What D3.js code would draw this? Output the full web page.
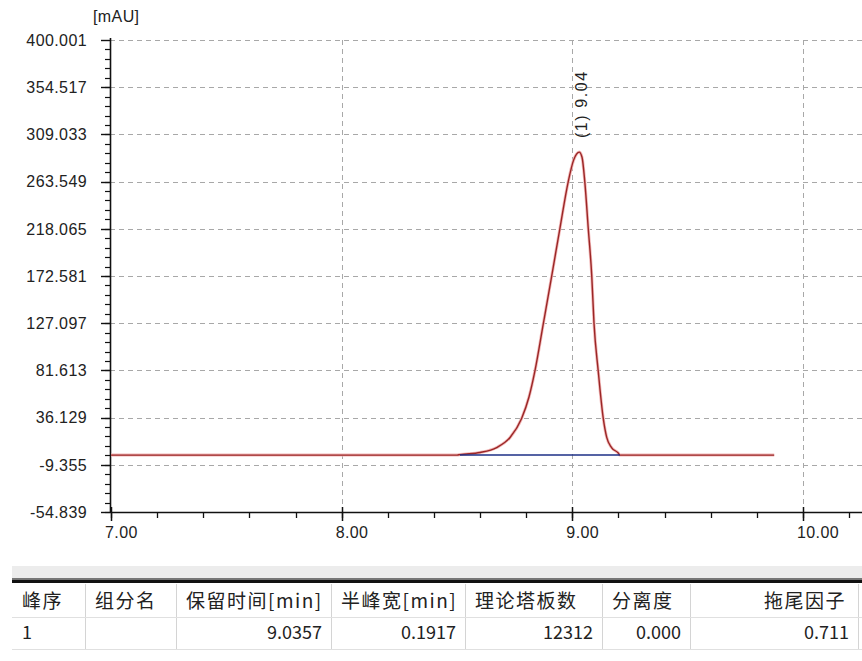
<!DOCTYPE html>
<html>
<head>
<meta charset="utf-8">
<script src="https://cdnjs.cloudflare.com/ajax/libs/d3/7.8.5/d3.min.js"></script>
<style>
	body { margin: 0; background: #fff; }
	.tick-label { font-family: "Liberation Sans", Arial, sans-serif; font-size: 16px; fill: #222; letter-spacing: 0.4px; }
	.grid { stroke: #a8a8a8; stroke-width: 1; stroke-dasharray: 5,4; }
	.tbl { font-family: "Noto Sans CJK SC", sans-serif; fill: #222; }
</style>
</head>
<body>
<div id="chart"></div>
<script>
// chromatogram signal
var retTime = [7.00, 8.50, 8.513, 8.600, 8.672, 8.730, 8.780, 8.812, 8.838, 8.874, 8.911, 8.946, 8.982, 9.005, 9.018, 9.030, 9.042, 9.054, 9.069, 9.084, 9.094, 9.112, 9.134, 9.149, 9.170, 9.199, 9.206, 9.875];
var signal  = [0, 0, 0.5, 2.5, 7.3, 17.0, 35.3, 56.0, 81.4, 126.5, 173.2, 218.3, 263.3, 284, 290, 292, 287, 263.3, 218.3, 173.2, 126.5, 81.4, 35.3, 17.0, 7.3, 2.0, 0, 0];

// integration baseline of the peak
var baseTime = [8.513, 9.206];
var baseValue = [0, 0];

// peak annotation
var peakTime = [9.04];
var peakHeight = [292];
var peakLabel = ["(1) 9.04"];

// axes
var yTicks = [-54.839, -9.355, 36.129, 81.613, 127.097, 172.581, 218.065, 263.549, 309.033, 354.517, 400.001];
var xTicks = [7, 8, 9, 10];
var yUnit = "[mAU]";

// peak table
var tableHeader = ["峰序", "组分名", "保留时间[min]", "半峰宽[min]", "理论塔板数", "分离度", "拖尾因子"];
var tableRow = ["1", "", "9.0357", "0.1917", "12312", "0.000", "0.711"];

var W = 862, H = 661;

var svg = d3.select("#chart").append("svg")
	.attr("width", W)
	.attr("height", H);

// scales
var x = d3.scaleLinear().domain([7, 10.26]).range([111, 863]);
var y = d3.scaleLinear().domain([-54.839, 400.001]).range([512, 40]);
var axisX = 110;

// gridlines
svg.append("g").selectAll("line")
	.data(yTicks.slice(1))
	.enter().append("line")
	.attr("class", "grid")
	.attr("x1", axisX).attr("x2", W)
	.attr("y1", function(d) { return Math.round(y(d)) + 0.5; })
	.attr("y2", function(d) { return Math.round(y(d)) + 0.5; });

svg.append("g").selectAll("line")
	.data(xTicks.slice(1))
	.enter().append("line")
	.attr("class", "grid")
	.attr("y1", y(400.001)).attr("y2", y(-54.839))
	.attr("x1", function(d) { return Math.round(x(d)) + 0.5; })
	.attr("x2", function(d) { return Math.round(x(d)) + 0.5; });

// y axis
var gy = svg.append("g");
gy.append("line")
	.attr("x1", axisX + 0.5).attr("x2", axisX + 0.5)
	.attr("y1", y(400.001) - 2).attr("y2", y(-54.839))
	.attr("stroke", "#111").attr("stroke-width", 1.6);

var step = (yTicks[1] - yTicks[0]) / 5;
var yMinor = d3.range(0, 50).map(function(i) { return yTicks[0] + i * step; });
gy.selectAll(".minor").data(yMinor).enter().append("line")
	.attr("x1", axisX - 5).attr("x2", axisX)
	.attr("y1", function(d) { return Math.round(y(d)) + 0.5; })
	.attr("y2", function(d) { return Math.round(y(d)) + 0.5; })
	.attr("stroke", "#111").attr("stroke-width", 1.2);
gy.selectAll(".major").data(yTicks).enter().append("line")
	.attr("x1", axisX - 9).attr("x2", axisX)
	.attr("y1", function(d) { return Math.round(y(d)) + 0.5; })
	.attr("y2", function(d) { return Math.round(y(d)) + 0.5; })
	.attr("stroke", "#111").attr("stroke-width", 1.4);
gy.selectAll("text").data(yTicks).enter().append("text")
	.attr("class", "tick-label")
	.attr("x", 87)
	.attr("y", function(d) { return y(d); })
	.attr("dy", "0.36em")
	.attr("text-anchor", "end")
	.text(function(d) { return d3.format(".3f")(d).replace("\u2212", "-"); });

svg.append("text")
	.attr("class", "tick-label")
	.attr("x", 93).attr("y", 22)
	.text(yUnit);

// x axis
var gx = svg.append("g");
gx.append("line")
	.attr("x1", axisX).attr("x2", W)
	.attr("y1", y(-54.839) + 0.5).attr("y2", y(-54.839) + 0.5)
	.attr("stroke", "#111").attr("stroke-width", 1.6);
var xMinor = d3.range(0, 17).map(function(i) { return 7 + i * 0.2; });
gx.selectAll(".minor").data(xMinor).enter().append("line")
	.attr("y1", y(-54.839)).attr("y2", y(-54.839) + 6)
	.attr("x1", function(d) { return Math.round(x(d)) + 0.5; })
	.attr("x2", function(d) { return Math.round(x(d)) + 0.5; })
	.attr("stroke", "#111").attr("stroke-width", 1.3);
gx.selectAll(".major").data(xTicks).enter().append("line")
	.attr("y1", y(-54.839) - 5).attr("y2", y(-54.839) + 9)
	.attr("x1", function(d) { return Math.round(x(d)) + 0.5; })
	.attr("x2", function(d) { return Math.round(x(d)) + 0.5; })
	.attr("stroke", "#111").attr("stroke-width", 1.5);
gx.selectAll("text").data(xTicks).enter().append("text")
	.attr("class", "tick-label")
	.attr("x", function(d) { return x(d) - 6; })
	.attr("y", 538)
	.text(function(d) { return d3.format(".2f")(d); });

// signal trace
var trace = d3.line()
	.x(function(d) { return x(d[0]); })
	.y(function(d) { return y(d[1]); })
	.curve(d3.curveMonotoneX);

svg.append("path")
	.attr("d", trace(d3.zip(retTime, signal)))
	.attr("fill", "none")
	.attr("stroke", "#f2b8b8")
	.attr("stroke-width", 3);
svg.append("path")
	.attr("d", trace(d3.zip(retTime, signal)))
	.attr("fill", "none")
	.attr("stroke", "#9a2626")
	.attr("stroke-width", 1.4);

svg.append("path")
	.attr("d", d3.line().x(function(d) { return x(d[0]); }).y(function(d) { return y(d[1]); })(d3.zip(baseTime, baseValue)))
	.attr("fill", "none")
	.attr("stroke", "#1c2f86")
	.attr("stroke-width", 1.5);

// peak label, rotated
svg.selectAll(".peak").data(peakLabel).enter().append("text")
	.attr("class", "tick-label")
	.style("letter-spacing", "1.6px")
	.attr("transform", function(d, i) { return "translate(" + (x(peakTime[i]) + 5) + "," + (y(peakHeight[i]) - 14) + ") rotate(-90)"; })
	.text(function(d) { return d; });

// peak table
var colEdge = [12, 85, 176, 331, 465, 602, 690, 858];
var tbl = svg.append("g");
tbl.append("rect").attr("x", 12).attr("y", 566).attr("width", W - 12).attr("height", 12).attr("fill", "#ececec");
tbl.append("rect").attr("x", 12).attr("y", 578).attr("width", W - 12).attr("height", 2).attr("fill", "#777");
tbl.append("rect").attr("x", 12).attr("y", 580).attr("width", W - 12).attr("height", 3).attr("fill", "#111");

tbl.selectAll(".sep").data(colEdge.slice(1)).enter().append("line")
	.attr("x1", function(d) { return d + 0.5; }).attr("x2", function(d) { return d + 0.5; })
	.attr("y1", 584).attr("y2", 649)
	.attr("stroke", "#d4d4d4");
[617, 649].forEach(function(yy) {
	tbl.append("line").attr("x1", 12).attr("x2", W).attr("y1", yy + 0.5).attr("y2", yy + 0.5).attr("stroke", "#e0e0e0");
});

tbl.selectAll(".head").data(tableHeader).enter().append("text")
	.attr("class", "tbl")
	.style("font-size", "19px")
	.style("letter-spacing", "1.5px")
	.attr("x", function(d, i) { return i == tableHeader.length - 1 ? colEdge[i + 1] - 12 : colEdge[i] + 10; })
	.attr("y", 601)
	.attr("dy", "0.35em")
	.attr("text-anchor", function(d, i) { return i == tableHeader.length - 1 ? "end" : "start"; })
	.text(function(d) { return d; });

tbl.selectAll(".cell").data(tableRow).enter().append("text")
	.attr("class", "tbl")
	.style("font-size", "18px")
	.attr("x", function(d, i) { return i == 0 ? colEdge[i] + 10 : colEdge[i + 1] - 9; })
	.attr("y", 633)
	.attr("dy", "0.35em")
	.attr("text-anchor", function(d, i) { return i == 0 ? "start" : "end"; })
	.text(function(d) { return d; });
</script>
</body>
</html>
